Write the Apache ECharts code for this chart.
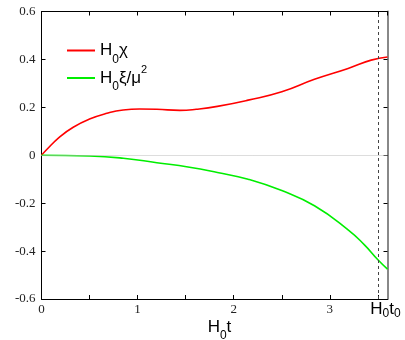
<!DOCTYPE html>
<html>
<head>
<meta charset="utf-8">
<script src="https://cdn.jsdelivr.net/npm/echarts@6/dist/echarts.min.js"></script>
<style>
  html, body { margin: 0; padding: 0; background: #fff; }
  #chart { width: 405px; height: 340px; }
</style>
</head>
<body>
<div id="chart"></div>
<script>
// values
var chiT = [0, 0.05, 0.19, 0.33, 0.5, 0.68, 0.85, 1.02, 1.2, 1.44, 1.61, 1.83, 2.15, 2.5, 2.84, 3.19, 3.43, 3.6];
var chiV = [0, 0.022, 0.077, 0.117, 0.151, 0.175, 0.189, 0.193, 0.192, 0.1875, 0.192, 0.204, 0.23, 0.265, 0.317, 0.3625, 0.397, 0.41];
var xiT = [0, 0.5, 0.85, 1.2, 1.54, 1.83, 2.15, 2.5, 2.84, 3.19, 3.36, 3.5, 3.6];
var xiV = [0, -0.003, -0.0125, -0.031, -0.05, -0.072, -0.1, -0.1475, -0.211, -0.311, -0.374, -0.436, -0.475];
var t0 = 3.5;
var xTickLabels = {0: '0', 1: '1', 2: '2', 3: '3'};

function pairs(xs, ys) {
  return xs.map(function (x, i) { return [x, ys[i]]; });
}

var chart = echarts.init(document.getElementById('chart'));

var serif = 'Liberation Serif';
var sans = 'Liberation Sans';
var bigRich = {
  m: { fontFamily: sans, fontSize: 17, color: '#000', lineHeight: 20 },
  s: { fontFamily: sans, fontSize: 12, color: '#000', verticalAlign: 'bottom', padding: [0, 0, -5, 0] },
  p: { fontFamily: sans, fontSize: 11, color: '#000', verticalAlign: 'top', padding: [-4, 0, 0, 0] }
};

function legendBox(name, top) {
  return {
    orient: 'vertical',
    left: 62,
    top: top,
    itemWidth: 28,
    itemHeight: 2,
    icon: 'rect',
    data: [name],
    formatter: function (n) {
      return n === 'chi' ? '{m|H}{s|0}{m|χ}' : '{m|H}{s|0}{m|ξ/μ}{p|2}';
    },
    textStyle: { rich: bigRich }
  };
}

var option = {
  animation: false,
  grid: { left: 41.5, right: 17.5, top: 11.5, bottom: 41, containLabel: false, outerBoundsMode: 'none' },
  legend: [legendBox('chi', 37), legendBox('xi', 59)],
  xAxis: [{
    type: 'value', position: 'bottom', min: 0, max: 3.6, interval: 0.5,
    axisLine: { onZero: false, lineStyle: { color: '#000', width: 1 } },
    axisTick: { inside: true, length: 4, lineStyle: { color: '#000' } },
    splitLine: { show: false },
    axisLabel: {
      margin: 4,
      showMaxLabel: false,
      formatter: function (v) {
        if (Math.abs(v - t0) < 1e-6) return '{f|H}{s|0}{m|t}{s|0}';
        var k = Math.round(v);
        if (Math.abs(v - k) < 1e-6 && xTickLabels[k] !== undefined) return '{n|' + xTickLabels[k] + '}';
        return '';
      },
      rich: {
        n: { fontFamily: serif, fontSize: 13, color: '#222', padding: [0, 0, 0, 0] },
        f: { fontFamily: sans, fontSize: 17, color: '#000', lineHeight: 12, padding: [0, 0, 0, 15] },
        m: { fontFamily: sans, fontSize: 17, color: '#000', lineHeight: 12 },
        s: bigRich.s
      }
    },
    name: '{f|H}{s|0}{m|t}',
    nameLocation: 'middle',
    nameGap: 18,
    nameMoveOverlap: false,
    nameTextStyle: {
      rich: {
        f: { fontFamily: sans, fontSize: 17, color: '#000', lineHeight: 20, padding: [0, 0, 0, 10] },
        m: bigRich.m,
        s: bigRich.s
      }
    }
  }, {
    type: 'value', position: 'top', min: 0, max: 3.6, interval: 0.5,
    axisLine: { onZero: false, lineStyle: { color: '#000', width: 1 } },
    axisTick: { inside: true, length: 4, lineStyle: { color: '#000' } },
    axisLabel: { show: false },
    splitLine: { show: false }
  }],
  yAxis: [{
    type: 'value', position: 'left', min: -0.6, max: 0.6, interval: 0.2,
    axisLine: { show: true, onZero: false, lineStyle: { color: '#000', width: 1 } },
    axisTick: { show: true, inside: true, length: 4, lineStyle: { color: '#000' } },
    splitLine: { show: false },
    axisLabel: {
      margin: 6,
      fontFamily: serif, fontSize: 13, color: '#222',
      formatter: function (v) {
        var r = Math.round(v * 10) / 10;
        return r === 0 ? '0' : r.toFixed(1);
      }
    }
  }, {
    type: 'value', position: 'right', min: -0.6, max: 0.6, interval: 0.2,
    axisLine: { show: true, onZero: false, lineStyle: { color: '#888', width: 2 } },
    axisTick: { show: true, inside: true, length: 4, lineStyle: { color: '#000' } },
    axisLabel: { show: false },
    splitLine: { show: false }
  }],
  series: [{
    name: 'chi', type: 'line', smooth: 0.5, showSymbol: false,
    xAxisIndex: 0, yAxisIndex: 0,
    data: pairs(chiT, chiV),
    itemStyle: { color: '#ff0000' },
    lineStyle: { color: '#ff0000', width: 1.6 },
    z: 3,
    markLine: {
      silent: true, symbol: 'none', label: { show: false },
      data: [
        { yAxis: 0, lineStyle: { color: '#bbb', type: 'dotted', width: 1 } },
        { xAxis: t0, lineStyle: { color: '#444', type: [3, 3], width: 1 } }
      ]
    }
  }, {
    name: 'xi', type: 'line', smooth: 0.5, showSymbol: false,
    xAxisIndex: 0, yAxisIndex: 0,
    data: pairs(xiT, xiV),
    itemStyle: { color: '#00ee00' },
    lineStyle: { color: '#00ee00', width: 1.6 },
    z: 3
  }]
};

chart.setOption(option);
</script>
</body>
</html>
